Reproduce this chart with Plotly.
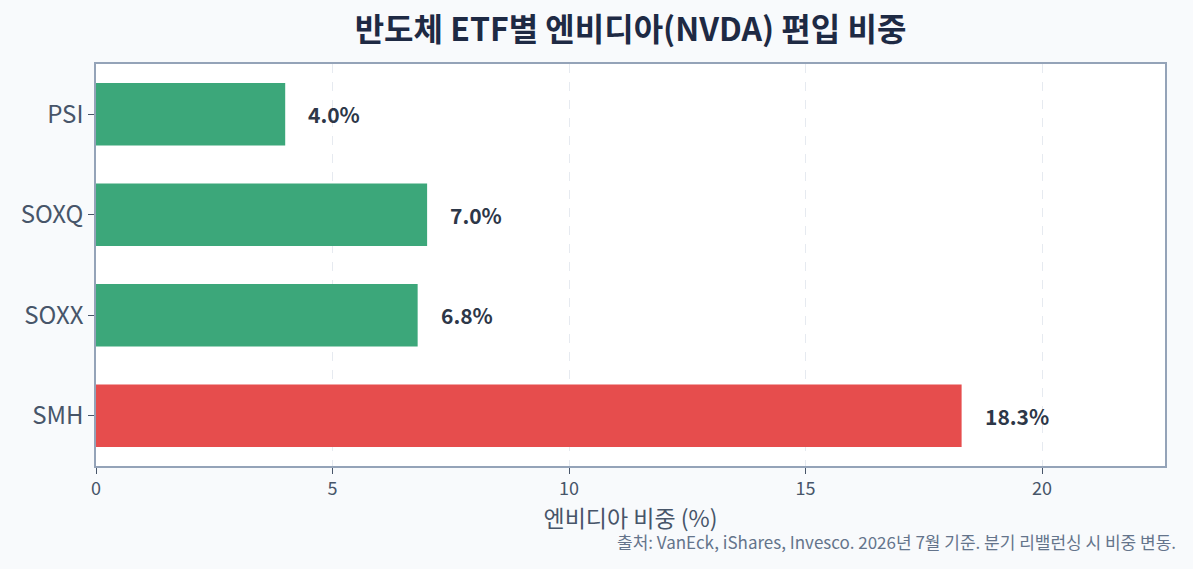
import plotly.graph_objects as go

# ── data ─────────────────────────────────────────────────────────────
etfs      = ["SMH", "SOXX", "SOXQ", "PSI"]
nvda_pct  = [18.3, 6.8, 7.0, 4.0]
bar_color = ["#E64D4D", "#3CA77A", "#3CA77A", "#3CA77A"]
x_ticks   = [0, 5, 10, 15, 20]

TITLE  = "반도체 ETF별 엔비디아(NVDA) 편입 비중"
XTITLE = "엔비디아 비중 (%)"
SOURCE = "출처: VanEck, iShares, Invesco. 2026년 7월 기준. 분기 리밸런싱 시 비중 변동."

FONT = "Noto Sans CJK KR"
BG = "#F8FAFC"

fig = go.Figure()
fig.add_trace(go.Bar(
    x=nvda_pct, y=etfs, orientation="h",
    marker=dict(color=bar_color, line=dict(width=0)),
    width=0.62,
    hoverinfo="x+y",
    showlegend=False,
))

# value labels to the right of each bar
for name, v in zip(etfs, nvda_pct):
    fig.add_annotation(
        x=v, y=name, text=f"<b>{v:.1f}%</b>",
        xanchor="left", xshift=21, showarrow=False,
        font=dict(family=FONT, size=21, color="#2D3748"),
    )

fig.add_annotation(
    text=SOURCE, xref="paper", yref="paper", x=1.012, y=-0.152,
    xanchor="right", yanchor="top", showarrow=False,
    font=dict(family=FONT, size=17, color="#64748B"),
)

fig.update_layout(
    width=1193, height=569,
    title=dict(text=f"<b>{TITLE}</b>", x=0.5, xref="paper", y=0.948,
               yanchor="middle",
               font=dict(family=FONT, size=32, color="#1E2A44")),
    paper_bgcolor=BG,
    plot_bgcolor="#FFFFFF",
    margin=dict(l=96, r=28, t=64, b=103),
    font=dict(family=FONT, color="#475569"),
)
fig.update_xaxes(
    range=[0, 22.6], tickvals=x_ticks,
    title=dict(text=XTITLE, font=dict(size=23, color="#475569"), standoff=7),
    tickfont=dict(size=18, color="#475569"),
    showgrid=True, gridcolor="#E6EAF0", griddash="dash", gridwidth=1.2,
    zeroline=False,
    showline=True, linecolor="#94A3B8", linewidth=1.5, mirror=True,
    ticks="outside", ticklen=6, tickcolor="#475569",
)
fig.update_yaxes(
    tickfont=dict(size=24, color="#475569"),
    showgrid=False,
    showline=True, linecolor="#94A3B8", linewidth=1.5, mirror=True,
    ticks="outside", ticklen=6, tickcolor="#475569",
)

fig.write_html(
    "out.html",
    config={"displayModeBar": False},
    post_script=f"document.body.style.margin='0';document.body.style.background='{BG}';",
)
